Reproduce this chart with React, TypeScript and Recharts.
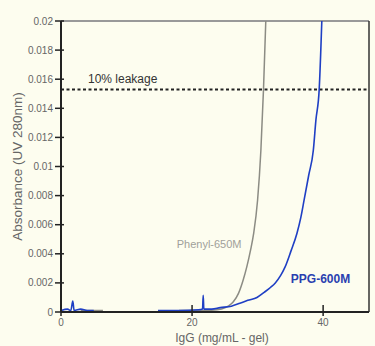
import React from 'react';
import { LineChart, Line, XAxis, YAxis, ReferenceLine, ReferenceDot } from 'recharts';

const xTicks = [0, 20, 40];
const yTicks = [0, 0.002, 0.004, 0.006, 0.008, 0.01, 0.012, 0.014, 0.016, 0.018, 0.02];
const yTickLabels = ['0', '0.002', '0.004', '0.006', '0.008', '0.01', '0.012', '0.014', '0.016', '0.018', '0.02'];

const phenylX = [3, 4, 5, 6.4, 14.8, 18, 21, 23, 24.5, 25.5, 26.3, 27.1, 27.8, 28.35, 28.9, 29.4, 30.0, 30.5, 30.9, 31.25];
const phenylY = [0.0001, 0.0001, 0.0001, 0.0001, null, 0.0001, 0.0001, 0.00012, 0.0002, 0.0004, 0.0007, 0.0013, 0.0022, 0.0031, 0.0042, 0.0054, 0.0077, 0.0111, 0.0153, 0.02];

const ppgX = [0, 1, 1.5, 1.8, 2.0, 3, 4, 5, 10, 14.8, 18, 21, 21.6, 21.7, 21.8, 23, 24.3, 26, 27.3, 28.5, 29.9, 31, 32, 32.7, 33.5, 34.2, 35.1, 36.0, 36.6, 37.1, 37.8, 38.5, 38.9, 39.4, 39.8];
const ppgY = [0.0001, 0.0002, 0.0001, 0.00076, 0.0001, 0.0002, 0.0001, 0.0001, null, 0.0001, 0.0001, 0.00015, 0.0002, 0.00115, 0.0002, 0.0002, 0.0003, 0.0004, 0.0006, 0.0008, 0.001, 0.00135, 0.0017, 0.002, 0.0025, 0.0031, 0.0042, 0.0054, 0.0065, 0.0077, 0.0094, 0.0111, 0.0132, 0.0153, 0.02];

const leakage = 0.0153;
const phenylLabel = { x: 22.6, y: 0.00467, text: 'Phenyl-650M' };
const ppgLabel = { x: 39.6, y: 0.00232, text: 'PPG-600M' };

const phenylData = phenylX.map((x, i) => ({ x, v: phenylY[i] }));
const ppgData = ppgX.map((x, i) => ({ x, v: ppgY[i] }));

const FONT = '"Liberation Sans", Arial, sans-serif';

const YTick = (props: any) => {
  const { x, y, payload } = props;
  const idx = yTicks.indexOf(payload.value);
  const label = idx >= 0 ? yTickLabels[idx] : String(payload.value);
  return (
    <g>
      <line x1={x - 6} x2={x + 3} y1={y} y2={y} stroke="#222" strokeWidth={1.5} />
      <text x={x - 8} y={y} dy={3.5} textAnchor="end" fontSize={10} fill="#666" fontFamily={FONT}>{label}</text>
    </g>
  );
};

const XTick = (props: any) => {
  const { x, y, payload } = props;
  return (
    <g>
      <line x1={x} x2={x} y1={y - 7} y2={y + 4} stroke="#222" strokeWidth={1.5} />
      <text x={x} y={y + 14} textAnchor="middle" fontSize={10} fill="#666" fontFamily={FONT}>{payload.value}</text>
    </g>
  );
};

export default function App() {
  return (
    <div style={{ position: 'absolute', left: 0, top: 0, width: 375, height: 346, background: '#fdfdef' }}>
      <LineChart width={375} height={346} margin={{ top: 21, right: 6, bottom: 0, left: 0 }}>
        <XAxis
          type="number"
          dataKey="x"
          domain={[0, 47]}
          ticks={xTicks}
          allowDataOverflow
          height={34}
          tickLine={false}
          tickSize={0}
          tickMargin={0}
          tick={<XTick />}
          axisLine={{ stroke: '#222', strokeWidth: 2 }}
          label={{ value: 'IgG (mg/mL - gel)', position: 'insideBottom', offset: 4, dx: 7, fontSize: 12, fill: '#666', fontFamily: FONT }}
        />
        <YAxis
          type="number"
          domain={[0, 0.02]}
          ticks={yTicks}
          allowDataOverflow
          width={61}
          tickLine={false}
          tickSize={0}
          tickMargin={0}
          tick={<YTick />}
          axisLine={{ stroke: '#222', strokeWidth: 2 }}
          label={{ value: 'Absorbance (UV 280nm)', angle: -90, position: 'insideLeft', offset: 17, dy: 0, fontSize: 13.5, fill: '#666', fontFamily: FONT, style: { textAnchor: 'middle' } }}
        />
        <ReferenceLine y={0.02} stroke="#999" strokeWidth={2} />
        <ReferenceLine x={47} stroke="#333" strokeWidth={1.5} />
        <ReferenceLine
          y={leakage}
          stroke="#222"
          strokeWidth={2}
          strokeDasharray="3 2.5"
          label={(p: any) => {
            const vb = p.viewBox;
            return (
              <text x={vb.x + 27} y={vb.y - 6} fontSize={12} fill="#333" fontFamily={FONT}>10% leakage</text>
            );
          }}
        />
        <Line data={phenylData} dataKey="v" type="monotone" stroke="#8c8c84" strokeWidth={1.5} dot={false} isAnimationActive={false} connectNulls={false} />
        <Line data={ppgData} dataKey="v" type="monotone" stroke="#1f3fc4" strokeWidth={1.6} dot={false} isAnimationActive={false} connectNulls={false} />
        <ReferenceDot
          x={phenylLabel.x}
          y={phenylLabel.y}
          r={0}
          fill="none"
          stroke="none"
          label={{ value: phenylLabel.text, position: 'center', fontSize: 11, fill: '#a0a09a', fontFamily: FONT }}
        />
        <ReferenceDot
          x={ppgLabel.x}
          y={ppgLabel.y}
          r={0}
          fill="none"
          stroke="none"
          label={{ value: ppgLabel.text, position: 'center', fontSize: 12, fontWeight: 'bold', fill: '#2a3fb0', fontFamily: FONT }}
        />
      </LineChart>
    </div>
  );
}
